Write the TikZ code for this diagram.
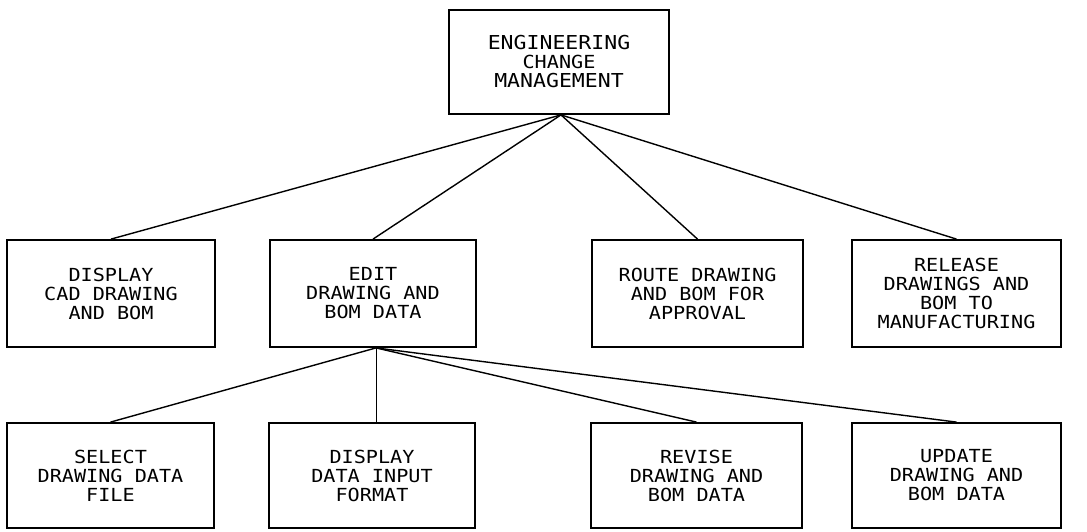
\documentclass[tikz,border=0pt]{standalone}
\usepackage{fontspec}
\newfontfamily\cadfont[FakeStretch=1.12]{DejaVu Sans Mono}
\begin{document}
\begin{tikzpicture}[x=1pt,y=-1pt,
  block/.style={draw, line width=1.8pt, inner sep=0pt, align=center,
    font=\cadfont\fontsize{18}{19}\selectfont},
  link/.style={line width=1.4pt},
  thinlink/.style={line width=0.8pt}]
\useasboundingbox (0,0) rectangle (1087,531);

% top level
\node[block, minimum width=220pt, minimum height=104pt,
  font=\cadfont\fontsize{19.2}{19}\selectfont] (ecm) at (559,62)
  {ENGINEERING\\{\fontsize{18}{19}\selectfont CHANGE}\\MANAGEMENT};

% second level
\node[block, minimum width=208pt, minimum height=107pt] (disp) at (111,293.5)
  {DISPLAY\\CAD DRAWING\\AND BOM};
\node[block, minimum width=206pt, minimum height=107pt] (edit) at (373,293.5)
  {EDIT\\DRAWING AND\\BOM DATA};
\node[block, minimum width=211pt, minimum height=107pt] (route) at (697.5,293.5)
  {ROUTE DRAWING\\AND BOM FOR\\APPROVAL};
\node[block, minimum width=209pt, minimum height=107pt] (release) at (956.5,293.5)
  {RELEASE\\DRAWINGS AND\\BOM TO\\MANUFACTURING};

% third level
\node[block, minimum width=207pt, minimum height=105pt] (select) at (110.5,475.5)
  {SELECT\\DRAWING DATA\\FILE};
\node[block, minimum width=206pt, minimum height=105pt] (format) at (372,475.5)
  {DISPLAY\\DATA INPUT\\FORMAT};
\node[block, minimum width=211pt, minimum height=105pt] (revise) at (696.5,475.5)
  {REVISE\\DRAWING AND\\BOM DATA};
\node[block, minimum width=209pt, minimum height=105pt] (update) at (956.5,475.5)
  {UPDATE\\DRAWING AND\\BOM DATA};

% connectors
\coordinate (ecmfoot) at ([xshift=2pt]ecm.south);
\coordinate (editfoot) at ([xshift=3pt]edit.south);
\foreach \child in {disp, edit, route, release}
  \draw[link] (ecmfoot) -- (\child.north);
\draw[link] (editfoot) -- (select.north);
\draw[thinlink] (editfoot) -- (editfoot |- format.north);
\draw[link] (editfoot) -- (revise.north);
\draw[link] (editfoot) -- (update.north);
\end{tikzpicture}
\end{document}
